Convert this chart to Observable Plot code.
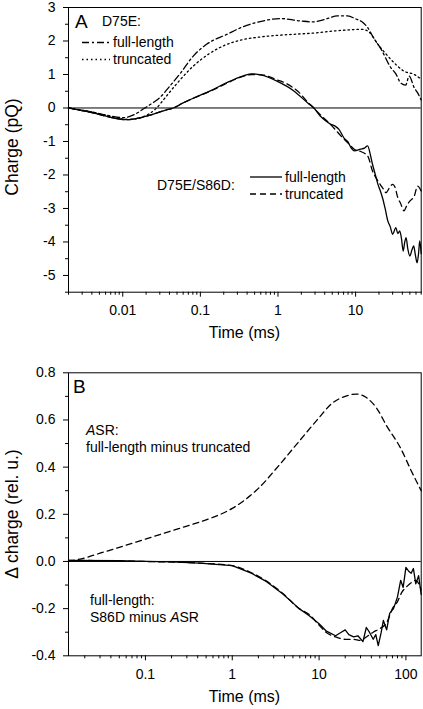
<!DOCTYPE html>
<html><head><meta charset="utf-8">
<script src="https://cdn.jsdelivr.net/npm/d3@7"></script>
<script src="https://cdn.jsdelivr.net/npm/@observablehq/plot@0.6"></script>
<style>body{margin:0;background:#fff;} svg{display:block;}</style>
</head><body><div id="chart"></div>
<script>
// ---------- Panel A data (time in ms, charge in pQ) ----------
const tA_D75E_fl = [0.002, 0.004, 0.007, 0.01, 0.014, 0.0193, 0.025, 0.03, 0.04, 0.055, 0.081, 0.12, 0.22, 0.35, 0.59, 1.07, 1.95, 2.8, 3.4, 4.5, 5.8, 7.9, 10, 12.3, 14.3, 17, 21, 28.5, 33, 38, 44, 49, 57, 63, 70];
const vA_D75E_fl = [0, -0.12, -0.24, -0.29, -0.2, 0, 0.17, 0.31, 0.64, 1.03, 1.55, 1.9, 2.2, 2.42, 2.58, 2.67, 2.6, 2.57, 2.6, 2.68, 2.75, 2.75, 2.66, 2.56, 2.4, 2.1, 1.78, 1.2, 1.02, 0.75, 0.68, 0.95, 0.6, 0.45, 0.24];

const tA_D75E_tr = [0.002, 0.004, 0.007, 0.01, 0.013, 0.018, 0.0273, 0.035, 0.049, 0.081, 0.13, 0.22, 0.35, 0.59, 1.0, 1.6, 3, 5.3, 8, 11.6, 14.3, 19.4, 28.5, 42, 57, 70];
const vA_D75E_tr = [0, -0.12, -0.25, -0.33, -0.34, -0.27, 0, 0.3, 0.71, 1.25, 1.62, 1.9, 2.04, 2.12, 2.17, 2.2, 2.24, 2.3, 2.33, 2.35, 2.3, 1.9, 1.45, 1.1, 1.0, 0.86];

const tA_S86D_fl = [0.002, 0.004, 0.007, 0.011, 0.016, 0.025, 0.035, 0.0448, 0.06, 0.081, 0.134, 0.22, 0.36, 0.46, 0.62, 0.97, 1.6, 2.5, 2.9, 3.5, 4.1, 4.8, 5.5, 6.1, 7.1, 7.9, 8.8, 9.6, 11.6, 13, 14.3, 15.5, 16.5, 18, 19.4, 21, 22.2, 24, 26, 28, 30, 33, 35, 37, 39, 41, 43, 44.7, 47, 50, 53, 56, 59, 62, 65, 67, 70];
const vA_S86D_fl = [0, -0.14, -0.28, -0.35, -0.3, -0.18, -0.07, 0, 0.15, 0.29, 0.51, 0.76, 0.96, 1.02, 0.98, 0.8, 0.51, 0.12, 0, -0.24, -0.38, -0.49, -0.55, -0.64, -0.9, -1.0, -1.2, -1.28, -1.23, -1.2, -1.13, -1.4, -1.68, -2.0, -2.28, -2.5, -2.68, -3.0, -3.37, -3.55, -3.77, -3.57, -3.75, -3.67, -3.9, -4.27, -4.0, -3.87, -4.2, -4.42, -4.25, -4.12, -4.4, -4.62, -4.3, -3.97, -4.35];

const tA_S86D_tr = [0.002, 0.004, 0.007, 0.011, 0.016, 0.025, 0.035, 0.0448, 0.06, 0.081, 0.134, 0.22, 0.36, 0.46, 0.62, 0.97, 1.3, 1.8, 2.5, 2.9, 3.5, 4.8, 6.5, 8, 9.6, 11.6, 14.3, 16.5, 18.5, 20.7, 22.5, 24.7, 27, 30, 32, 35, 38, 42, 46, 50, 57, 63, 70];
const vA_S86D_tr = [0, -0.14, -0.28, -0.35, -0.3, -0.18, -0.07, 0, 0.15, 0.29, 0.5, 0.74, 0.95, 1.0, 0.99, 0.84, 0.72, 0.5, 0.14, 0, -0.2, -0.5, -0.84, -1.05, -1.23, -1.3, -1.43, -1.88, -2.1, -2.28, -2.4, -2.53, -2.4, -2.28, -2.35, -2.68, -2.85, -3.07, -2.9, -2.78, -2.63, -2.33, -2.48];

const xTicksA = [0.01, 0.1, 1, 10];
const yTicksA = [-5, -4, -3, -2, -1, 0, 1, 2, 3];
const yMinorA = [-5.5, -4.5, -3.5, -2.5, -1.5, -0.5, 0.5, 1.5, 2.5];

// ---------- Panel B data (time in ms, delta charge in rel. u.) ----------
const tB_ASR = [0.013, 0.02, 0.03, 0.05, 0.1, 0.2, 0.3, 0.58, 1, 2, 3.5, 5.9, 10, 14, 20, 27, 35, 46, 60, 87, 115, 150];
const vB_ASR = [0, 0.015, 0.035, 0.06, 0.095, 0.13, 0.15, 0.185, 0.225, 0.31, 0.41, 0.51, 0.61, 0.67, 0.70, 0.71, 0.695, 0.65, 0.575, 0.48, 0.385, 0.30];

const tB_fl = [0.013, 0.05, 0.1, 0.2, 0.42, 1, 1.6, 2.4, 3.8, 5.9, 7.7, 10, 12, 15.5, 18, 20, 22, 25, 28, 32, 35, 38, 42, 45, 48, 52, 55, 60, 65, 72, 80, 87, 93, 100, 107, 115, 122, 130, 140, 150];
const vB_fl = [0.005, 0.003, 0, -0.002, -0.007, -0.018, -0.047, -0.082, -0.137, -0.20, -0.23, -0.264, -0.294, -0.315, -0.3, -0.29, -0.31, -0.32, -0.315, -0.34, -0.28, -0.3, -0.33, -0.31, -0.357, -0.3, -0.25, -0.29, -0.22, -0.2, -0.15, -0.08, -0.11, -0.025, -0.04, -0.05, -0.03, -0.095, -0.06, -0.14];

const tB_tr = [0.013, 0.1, 0.42, 1, 1.6, 2.4, 3.8, 5.9, 7.7, 10, 12, 15.5, 20, 25, 30, 35, 42, 50, 60, 70, 80, 90, 100, 115, 130, 150];
const vB_tr = [0.005, 0, -0.007, -0.018, -0.045, -0.08, -0.135, -0.2, -0.225, -0.27, -0.3, -0.32, -0.33, -0.33, -0.335, -0.32, -0.3, -0.285, -0.26, -0.2, -0.17, -0.13, -0.11, -0.09, -0.08, -0.12];

const xTicksB = [0.1, 1, 10, 100];
const yTicksB = [-0.4, -0.2, 0, 0.2, 0.4, 0.6, 0.8];
const yMinorB = [-0.3, -0.1, 0.1, 0.3, 0.5, 0.7];

// ---------- helpers ----------
const FONT = "'Liberation Sans', Arial, Helvetica, sans-serif";
const rows = (t, v) => t.map((d, i) => ({t: d, v: v[i]}));
function minorLog(lo, hi) {
  const out = [];
  for (let e = -4; e <= 3; e++) for (let m = 2; m <= 9; m++) {
    const val = +(m * Math.pow(10, e)).toPrecision(3);
    if (val >= lo && val <= hi) out.push(val);
  }
  return out;
}
const DASHDOT = "7,3,2,3", DOT = "1.5,3", DASH = "6,4";
const LW = 1.3;

function axes(xMajor, xMinor, yMajor, yMinor, yFmt) {
  return [
    Plot.axisX(xMajor, {tickSize: 5, tickPadding: 8, tickFormat: d => String(d), label: null}),
    Plot.axisX(xMinor, {tickSize: 3, tickFormat: () => "", label: null}),
    Plot.axisY(yMajor, {tickSize: 5, tickPadding: 8, tickFormat: yFmt, label: null}),
    Plot.axisY(yMinor, {tickSize: 3, tickFormat: () => "", label: null})
  ];
}

function addText(svg, x, y, parts, size, anchor) {
  const t = svg.append("text").attr("x", x).attr("y", y)
    .attr("font-family", FONT).attr("font-size", size).attr("fill", "black")
    .attr("text-anchor", anchor || "start");
  (Array.isArray(parts) ? parts : [[parts, false]]).forEach(([s, it]) => {
    t.append("tspan").attr("font-style", it ? "italic" : "normal").text(s);
  });
  return t;
}
function addLine(svg, x1, x2, y, dash) {
  svg.append("line").attr("x1", x1).attr("x2", x2).attr("y1", y).attr("y2", y)
    .attr("stroke", "black").attr("stroke-width", LW).attr("stroke-dasharray", dash || null);
}
function addYTitle(svg, x, y, str, size) {
  svg.append("text").attr("transform", `translate(${x},${y}) rotate(-90)`)
    .attr("text-anchor", "middle").attr("font-family", FONT).attr("font-size", size)
    .attr("fill", "black").text(str);
}

// ---------- Panel A ----------
const plotA = Plot.plot({
  width: 423, height: 350,
  marginTop: 7, marginRight: 2.3, marginBottom: 58.3, marginLeft: 68,
  style: {fontFamily: FONT, fontSize: "14px", background: "white", color: "black"},
  x: {type: "log", domain: [0.002, 70]},
  y: {domain: [-5.5, 3]},
  marks: [
    Plot.ruleY([0], {stroke: "black", strokeWidth: 1}),
    Plot.line(rows(tA_D75E_fl, vA_D75E_fl), {x: "t", y: "v", stroke: "black", strokeWidth: LW, strokeDasharray: DASHDOT, curve: "monotone-x"}),
    Plot.line(rows(tA_D75E_tr, vA_D75E_tr), {x: "t", y: "v", stroke: "black", strokeWidth: LW, strokeDasharray: DOT, curve: "monotone-x"}),
    Plot.line(rows(tA_S86D_tr, vA_S86D_tr), {x: "t", y: "v", stroke: "black", strokeWidth: LW, strokeDasharray: DASH, curve: "monotone-x"}),
    Plot.line(rows(tA_S86D_fl, vA_S86D_fl), {x: "t", y: "v", stroke: "black", strokeWidth: LW, curve: "monotone-x"}),
    Plot.frame({stroke: "black", strokeWidth: 1}),
    ...axes(xTicksA, minorLog(0.002, 70), yTicksA, yMinorA, d => String(d))
  ]
});
{
  const s = d3.select(plotA);
  addText(s, 75, 28, "A", 19);
  addText(s, 102, 26, "D75E:", 14);
  addLine(s, 82, 110, 42.5, DASHDOT);
  addText(s, 113, 47, "full-length", 14);
  addLine(s, 82, 110, 59.5, DOT);
  addText(s, 113, 64, "truncated", 14);
  addText(s, 157, 190, "D75E/S86D:", 14);
  addLine(s, 250, 282, 177, null);
  addText(s, 285, 182, "full-length", 14);
  addLine(s, 250, 282, 194, DASH);
  addText(s, 285, 199, "truncated", 14);
  addText(s, 244.5, 338, "Time (ms)", 16, "middle");
  addYTitle(s, 18, 147, "Charge (pQ)", 17.5);
}

// ---------- Panel B ----------
const plotB = Plot.plot({
  width: 423, height: 359,
  marginTop: 22.3, marginRight: 2.3, marginBottom: 53.7, marginLeft: 68,
  style: {fontFamily: FONT, fontSize: "14px", background: "white", color: "black"},
  x: {type: "log", domain: [0.013, 150]},
  y: {domain: [-0.4, 0.8]},
  marks: [
    Plot.ruleY([0], {stroke: "black", strokeWidth: 1}),
    Plot.line(rows(tB_ASR, vB_ASR), {x: "t", y: "v", stroke: "black", strokeWidth: LW, strokeDasharray: DASH, curve: "monotone-x"}),
    Plot.line(rows(tB_tr, vB_tr), {x: "t", y: "v", stroke: "black", strokeWidth: LW, strokeDasharray: DASH, curve: "monotone-x"}),
    Plot.line(rows(tB_fl, vB_fl), {x: "t", y: "v", stroke: "black", strokeWidth: LW, curve: "linear"}),
    Plot.frame({stroke: "black", strokeWidth: 1}),
    ...axes(xTicksB, minorLog(0.013, 150), yTicksB, yMinorB, d => d.toFixed(1))
  ]
});
{
  const s = d3.select(plotB);
  addText(s, 73, 43, "B", 19);
  addText(s, 86, 85, [["A", true], ["SR:", false]], 14);
  addText(s, 86, 102, "full-length minus truncated", 14);
  addText(s, 90, 255, "full-length:", 14);
  addText(s, 90, 272, [["S86D minus ", false], ["A", true], ["SR", false]], 14);
  addText(s, 244.5, 352, "Time (ms)", 16, "middle");
  addYTitle(s, 18, 164, "\u0394 charge (rel. u.)", 17.5);
}

const root = document.getElementById("chart");
root.appendChild(plotA);
root.appendChild(plotB);
</script>
</body></html>
